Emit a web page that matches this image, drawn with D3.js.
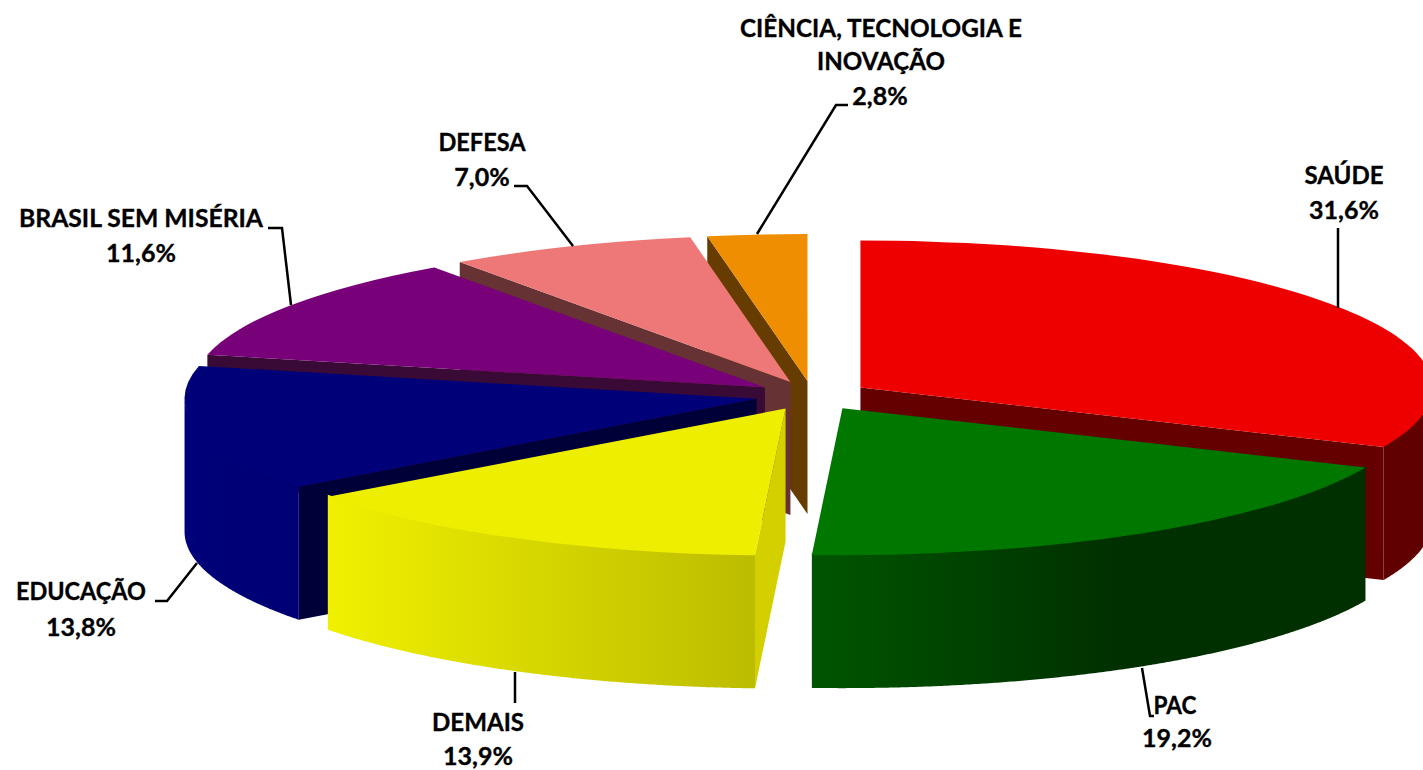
<!DOCTYPE html>
<html>
<head>
<meta charset="utf-8">
<script src="https://d3js.org/d3.v7.min.js"></script>
<style>
  html, body { margin: 0; padding: 0; background: #fff; overflow: hidden; }
  text { font-family: Lato, "Noto Sans", sans-serif; font-weight: 700; fill: #000; stroke: #000; stroke-width: 0.35; }
</style>
</head>
<body>
<div id="container"></div>
<script>
/* DATA */
const categories = ["SAÚDE", "PAC", "DEMAIS", "EDUCAÇÃO", "BRASIL SEM MISÉRIA", "DEFESA", "CIÊNCIA, TECNOLOGIA E INOVAÇÃO"];
const shares = [31.6, 19.2, 13.9, 13.8, 11.6, 7.0, 2.8];

/* COLOURS, same order as categories */
const topColors = ["#ee0000", "#007800", "#eeee00", "#000078", "#780078", "#ee7878", "#ee8e00"];
const cutColors = ["#640000", "#004000", "#d4d000", "#000038", "#3a0a36", "#663234", "#663c00"];
const wallColors = [
  ["#600000", "#600000"],
  ["#005500", "#003000"],
  ["#f0f000", "#bcbc00"],
  ["#000078", "#000074"],
  ["#3a0a36", "#3a0a36"],
  ["#663234", "#663234"],
  ["#663c00", "#663c00"]
];

/* LABEL LAYOUT: lines of text, their widths in px and the leader line of each slice */
const labelLines = [
  { i: 0, lines: ["SAÚDE"], widths: [79], x: 1344, y: 184, pctX: 1344, pctY: 219 },
  { i: 1, lines: ["PAC"], widths: [43], x: 1175, y: 714, pctX: 1177, pctY: 747 },
  { i: 2, lines: ["DEMAIS"], widths: [92], x: 478, y: 731, pctX: 478, pctY: 765 },
  { i: 3, lines: ["EDUCAÇÃO"], widths: [130], x: 81, y: 600, pctX: 81, pctY: 636 },
  { i: 4, lines: ["BRASIL SEM MISÉRIA"], widths: [244], x: 141, y: 227, pctX: 141, pctY: 262 },
  { i: 5, lines: ["DEFESA"], widths: [87], x: 482, y: 151, pctX: 482, pctY: 186 },
  { i: 6, lines: ["CIÊNCIA, TECNOLOGIA E", "INOVAÇÃO"], widths: [282, 128], x: 881, y: 37, pctX: 880, pctY: 105 }
];
const leaders = [
  [[1338, 308], [1338, 228]],
  [[1142, 668], [1150, 716], [1154, 716]],
  [[515, 672], [515, 703]],
  [[197, 563], [167, 601], [155, 601]],
  [[291, 305], [282, 228], [268, 228]],
  [[573, 246], [527, 186], [514, 186]],
  [[757, 234], [836, 105], [848, 105]]
];

const width = 1423,
  height = 770;

// pie geometry
const rx = 572,
  ry = 147,
  depth = 133,
  cx = 812.5,
  cy = 395.6,
  explode = 0.1;

const svg = d3.select("#container")
  .append("svg")
  .attr("width", width)
  .attr("height", height)
  .style("display", "block");

const defs = svg.append("defs");

const pie = d3.pie().sort(null).value(d => d);
const slices = pie(shares).map((d, i) => {
  const mid = (d.startAngle + d.endAngle) / 2;
  return {
    ...d,
    i,
    ax: cx + explode * rx * Math.sin(mid),
    ay: cy - explode * ry * Math.cos(mid)
  };
});

const point = (s, a) => [s.ax + rx * Math.sin(a), s.ay - ry * Math.cos(a)];
const line = d3.line();
const arcGen = d3.arc().innerRadius(0).outerRadius(rx);

// back to front
const drawOrder = [6, 5, 4, 3, 2, 0, 1];

const groups = svg.selectAll("g.slice")
  .data(drawOrder.map(i => slices[i]))
  .join("g")
  .attr("class", "slice");

// flat faces where the slice was cut, only the ones turned to the viewer
groups.each(function (s) {
  const g = d3.select(this);
  const face = a => {
    const p = point(s, a);
    return line([[s.ax, s.ay], p, [p[0], p[1] + depth], [s.ax, s.ay + depth]]) + "Z";
  };
  if (Math.sin(s.startAngle) < -1e-6) {
    g.append("path").attr("d", face(s.startAngle)).attr("fill", cutColors[s.i]);
  }
  if (Math.sin(s.endAngle) > 1e-6) {
    g.append("path").attr("d", face(s.endAngle)).attr("fill", cutColors[s.i]);
  }

  // outer wall, front half of the ellipse only
  const a0 = Math.max(s.startAngle, Math.PI / 2),
    a1 = Math.min(s.endAngle, Math.PI * 1.5);
  if (a1 > a0) {
    const angles = d3.range(a0, a1, 0.005).concat([a1]);
    const upper = angles.map(a => point(s, a));
    // wall starts 2px under the top so no light seam shows along the rim
    const lower = upper.map(p => [p[0], p[1] + depth]).reverse();
    const tucked = upper.map(p => [p[0], p[1] - 2]);
    const xs = d3.extent(upper, p => p[0]);
    const gradId = "wall" + s.i;
    const grad = defs.append("linearGradient")
      .attr("id", gradId)
      .attr("gradientUnits", "userSpaceOnUse")
      .attr("x1", xs[0]).attr("x2", s.i === 1 ? xs[0] + (xs[1] - xs[0]) * 0.55 : xs[1])
      .attr("y1", 0).attr("y2", 0);
    grad.append("stop").attr("offset", 0).attr("stop-color", wallColors[s.i][0]);
    grad.append("stop").attr("offset", 1).attr("stop-color", wallColors[s.i][1]);
    g.append("path")
      .attr("d", line(tucked.concat(lower)) + "Z")
      .attr("fill", `url(#${gradId})`);
  }

  // top of the slice: circle arc squashed to the ellipse
  g.append("path")
    .attr("d", arcGen(s))
    .attr("transform", `translate(${s.ax},${s.ay}) scale(1,${ry / rx})`)
    .attr("fill", topColors[s.i]);
});

// leader lines
svg.selectAll("path.leader")
  .data(leaders)
  .join("path")
  .attr("class", "leader")
  .attr("d", d => line(d))
  .attr("fill", "none")
  .attr("stroke", "#000")
  .attr("stroke-width", 2.5);

// labels
const ptBR = d3.formatLocale({ decimal: ",", thousands: ".", grouping: [3], currency: ["R$", ""] });
const fmt = ptBR.format(".1f");

const labels = svg.selectAll("g.label")
  .data(labelLines)
  .join("g")
  .attr("class", "label")
  .attr("font-size", 25)
  .attr("text-anchor", "middle");

labels.each(function (d) {
  const g = d3.select(this);
  d.lines.forEach((t, k) => {
    g.append("text")
      .attr("x", d.x)
      .attr("y", d.y + k * 33)
      .attr("textLength", d.widths[k])
      .attr("lengthAdjust", "spacingAndGlyphs")
      .text(t);
  });
  g.append("text").attr("x", d.pctX).attr("y", d.pctY).text(fmt(shares[d.i]) + "%");
});
</script>
</body>
</html>
